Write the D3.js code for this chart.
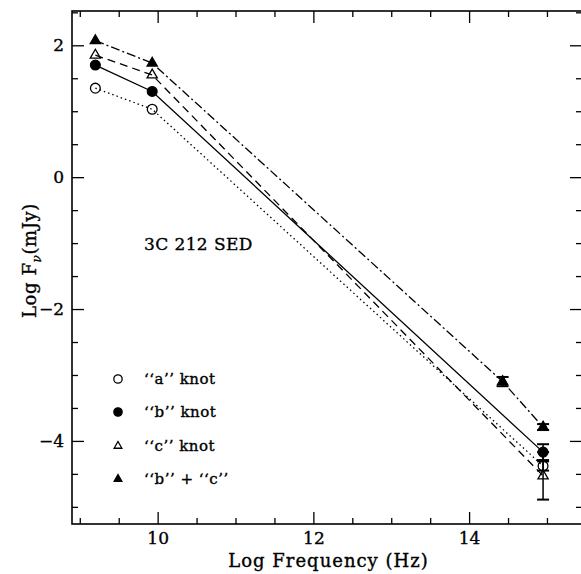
<!DOCTYPE html>
<html>
<head>
<meta charset="utf-8">
<script src="https://d3js.org/d3.v7.min.js"></script>
<style>
  body { margin: 0; background: #fff; }
  text { font-family: "DejaVu Serif", serif; fill: #000; stroke: #000; stroke-width: 0.35; }
</style>
</head>
<body>
<svg width="581" height="574" id="mainsvg"></svg>
<script>
// log frequency of each band (Hz)
const freq = [9.2, 9.93, 14.43, 14.95];
// log flux (mJy); null = no point at that band
const knotA  = [1.35, 1.03, null, -4.38];
const knotB  = [1.70, 1.30, null, -4.17];
const knotC  = [1.85, 1.55, null, -4.53];
const knotBC = [2.07, 1.73, -3.10, -3.79];
// error bars (0 = none drawn)
const errA  = [0, 0, 0, 0.07];
const errB  = [0, 0, 0, 0.12];
const errC  = [0, 0, 0, 0.36];
const errBC = [0, 0, 0.07, 0.045];

const xMajor = [10, 12, 14];
const yMajor = [2, 0, -2, -4];
const legendLabels = ['\u2018\u2018a\u2019\u2019 knot', '\u2018\u2018b\u2019\u2019 knot',
                      '\u2018\u2018c\u2019\u2019 knot', '\u2018\u2018b\u2019\u2019 + \u2018\u2018c\u2019\u2019'];

const svg = d3.select('#mainsvg');
const plotL = 72, plotR = 582, plotT = 11, plotB = 524;

const x = d3.scaleLinear().domain([8.9, 15.45]).range([plotL, plotR]);
const y = d3.scaleLinear().domain([2.52, -5.26]).range([plotT, plotB]);

const xMinor = d3.range(9, 15.45, 0.5).filter(v => !xMajor.includes(v));
const yMinor = d3.range(-5, 2.51, 0.5).filter(v => !yMajor.includes(v));

function axisPair(axisFn, scale, pos, major, minor, labels) {
    const g1 = svg.append('g').attr('transform', pos)
        .call(axisFn(scale).tickValues(major).tickSizeInner(-12).tickSizeOuter(0)
            .tickPadding(labels ? 8 : 0)
            .tickFormat(labels ? (d => d < 0 ? '\u2212' + Math.abs(d) : d) : () => ''));
    const g2 = svg.append('g').attr('transform', pos)
        .call(axisFn(scale).tickValues(minor).tickSizeInner(-6).tickSizeOuter(0).tickFormat(() => ''));
    [g1, g2].forEach(g => {
        g.select('.domain').remove();
        g.selectAll('line').attr('stroke', '#000').attr('stroke-width', 1.3);
    });
    g1.selectAll('text').attr('font-size', 17).attr('font-family', '"DejaVu Sans", sans-serif');
}
axisPair(d3.axisBottom, x, `translate(0,${plotB})`, xMajor, xMinor, true);
axisPair(d3.axisTop, x, `translate(0,${plotT})`, xMajor, xMinor, false);
axisPair(d3.axisLeft, y, `translate(${plotL},0)`, yMajor, yMinor, true);
axisPair(d3.axisRight, y, `translate(${plotR},0)`, yMajor, yMinor, false);

svg.append('rect')
    .attr('x', plotL).attr('y', plotT)
    .attr('width', plotR - plotL).attr('height', plotB - plotT)
    .attr('fill', 'none').attr('stroke', '#000').attr('stroke-width', 1.6);

const series = [
    {vals: knotA,  err: errA,  dash: '1.5,3',     sym: 'circle',   fill: 'none'},
    {vals: knotB,  err: errB,  dash: null,        sym: 'circle',   fill: '#000'},
    {vals: knotC,  err: errC,  dash: '8,5',       sym: 'triangle', fill: 'none'},
    {vals: knotBC, err: errBC, dash: '9,3,2,3',   sym: 'triangle', fill: '#000'}
];

const line = d3.line().defined(d => d.v !== null).x(d => x(d.f)).y(d => y(d.v));

function symbolPath(s) {
    return s === 'circle'
        ? d3.symbol().type(d3.symbolCircle).size(75)()
        : d3.symbol().type(d3.symbolTriangle).size(45)();
}

series.forEach(s => {
    const pts = freq.map((f, i) => ({f: f, v: s.vals[i], e: s.err[i]})).filter(d => d.v !== null);
    svg.append('path').datum(pts)
        .attr('d', line)
        .attr('fill', 'none').attr('stroke', '#000').attr('stroke-width', 1.3)
        .attr('stroke-dasharray', s.dash);

    pts.filter(d => d.e > 0).forEach(d => {
        const g = svg.append('g').attr('stroke', '#000').attr('stroke-width', 1.5);
        g.append('line').attr('x1', x(d.f)).attr('x2', x(d.f))
            .attr('y1', y(d.v + d.e)).attr('y2', y(d.v - d.e));
        [d.v + d.e, d.v - d.e].forEach(v => {
            g.append('line').attr('x1', x(d.f) - 6).attr('x2', x(d.f) + 6)
                .attr('y1', y(v)).attr('y2', y(v)).attr('stroke-width', 2);
        });
    });

    svg.selectAll(null).data(pts).enter().append('path')
        .attr('d', symbolPath(s.sym))
        .attr('transform', d => `translate(${x(d.f)},${y(d.v)})`)
        .attr('fill', s.fill === 'none' ? '#fff' : '#000')
        .attr('fill-opacity', s.fill === 'none' ? 0 : 1)
        .attr('stroke', '#000').attr('stroke-width', 1.3);
});

// legend
const legY = [379, 412, 446, 479];
series.forEach((s, i) => {
    svg.append('path')
        .attr('d', s.sym === 'circle'
            ? d3.symbol().type(d3.symbolCircle).size(55)()
            : d3.symbol().type(d3.symbolTriangle).size(26)())
        .attr('transform', `translate(118,${legY[i]})`)
        .attr('fill', s.fill === 'none' ? 'none' : '#000')
        .attr('stroke', '#000').attr('stroke-width', 1.3);
    svg.append('text')
        .attr('x', 144).attr('y', legY[i] + 5)
        .attr('font-size', 15)
        .attr('letter-spacing', 0.5)
        .text(legendLabels[i]);
});

svg.append('text')
    .attr('x', 144).attr('y', 250)
    .attr('font-size', 17)
    .attr('letter-spacing', 0.4)
    .text('3C 212 SED');

svg.append('text')
    .attr('x', (plotL + 581) / 2 + 2).attr('y', 567)
    .attr('text-anchor', 'middle')
    .attr('font-size', 18)
    .attr('letter-spacing', 1)
    .text('Log Frequency (Hz)');

const yl = svg.append('text')
    .attr('transform', `translate(36,${(plotT + plotB) / 2 - 7}) rotate(-90)`)
    .attr('text-anchor', 'middle')
    .attr('font-size', 18)
    .attr('letter-spacing', 0.6);
yl.append('tspan').text('Log F');
yl.append('tspan').attr('dy', 5).attr('font-size', 12).attr('font-style', 'italic').text('\u03bd');
yl.append('tspan').attr('dy', -5).text('(mJy)');
</script>
</body>
</html>
